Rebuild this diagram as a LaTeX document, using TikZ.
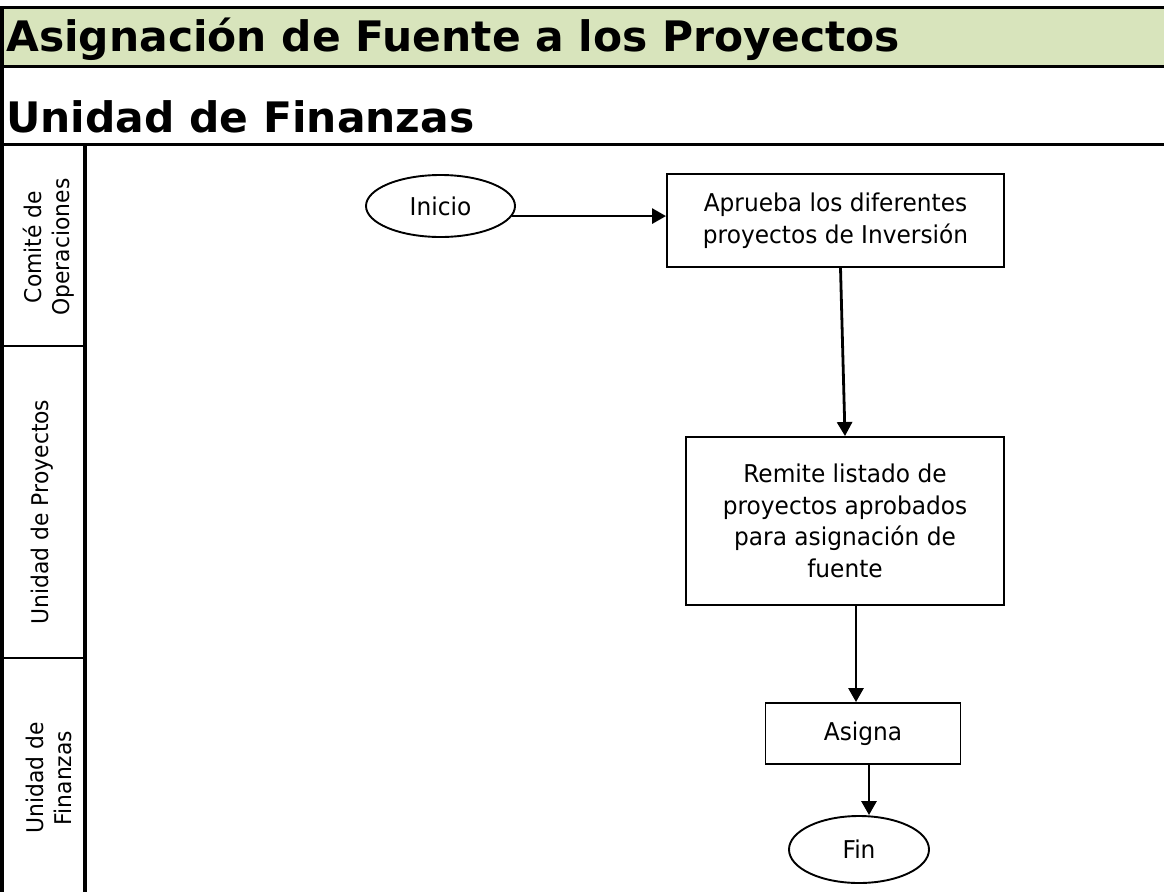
\documentclass[tikz,border=0pt]{standalone}
\usepackage{fontspec}
\setmainfont{DejaVu Sans}[FakeStretch=0.95]
\newfontfamily\titlefont{DejaVu Sans}[FakeStretch=1.01]
\usetikzlibrary{shapes.geometric,arrows.meta,calc}
\definecolor{titlegreen}{HTML}{D8E4BC}
\begin{document}
\begin{tikzpicture}[x=1pt,y=-1pt,
  proc/.style={draw, line width=1.9pt, align=center, inner sep=0pt, font=\fontsize{24.5}{31.5}\selectfont},
  term/.style={ellipse, draw, line width=1.9pt, inner sep=0pt, font=\fontsize{24.5}{31.5}\selectfont},
  arr/.style={line width=2.8pt, -{Triangle[length=14pt,width=15pt]}},
  lanelabel/.style={rotate=90, align=center, inner sep=0pt, font=\fontsize{23}{28}\selectfont},
  titletext/.style={anchor=base west, inner sep=0pt, font=\titlefont\bfseries\fontsize{42}{42}\selectfont},
  frame/.style={line width=3.5pt},
  divider/.style={line width=2.3pt}]
\useasboundingbox (0,0) rectangle (1164,892);
% title band
\fill[titlegreen] (0,7.5) rectangle (1164,66.5);
\draw[frame] (0,7.5) -- (1164,7.5);
\draw[frame] (0,66.5) -- (1164,66.5);
\draw[frame] (0,144.5) -- (1164,144.5);
\draw[frame] (2,7.5) -- (2,892);
\draw[frame] (85,144.5) -- (85,892);
\draw[divider] (2,346) -- (85,346);
\draw[divider] (2,658) -- (85,658);
% titles
\node[titletext] (title) at (6,51) {Asignación de Fuente a los Proyectos};
\node[titletext] (subtitle) at (6,132) {Unidad de Finanzas};
% lane labels
\node[lanelabel] (lane1) at (49,247) {Comité de\\Operaciones};
\node[lanelabel] (lane2) at (42,512) {Unidad de Proyectos};
\node[lanelabel] (lane3) at (49,778) {Unidad de\\Finanzas};
% flow nodes
\node[term, minimum width=149pt, minimum height=62pt] (inicio) at (440.5,206) {Inicio};
\node[proc, minimum width=337pt, minimum height=93pt] (box1) at (835.5,220.5) {Aprueba los diferentes\\proyectos de Inversión};
\node[proc, minimum width=318pt, minimum height=168pt] (box2) at (845,521) {Remite listado de\\proyectos aprobados\\para asignación de\\fuente};
\node[proc, minimum width=195pt, minimum height=61pt] (asigna) at (863,733.5) {Asigna};
\node[term, minimum width=140pt, minimum height=67pt] (fin) at (859,849.5) {Fin};
% connectors
\draw[arr] (inicio.-8) -- (inicio.-8 -| box1.west);
\draw[arr] ($(box1.south)+(5,0)$) -- (box2.north);
\draw[arr] ([xshift=11pt]box2.south) -- ([xshift=11pt]box2.south |- asigna.north);
\draw[arr] ([xshift=6pt]asigna.south) -- ([xshift=6pt]asigna.south |- fin.north);
\end{tikzpicture}
\end{document}
